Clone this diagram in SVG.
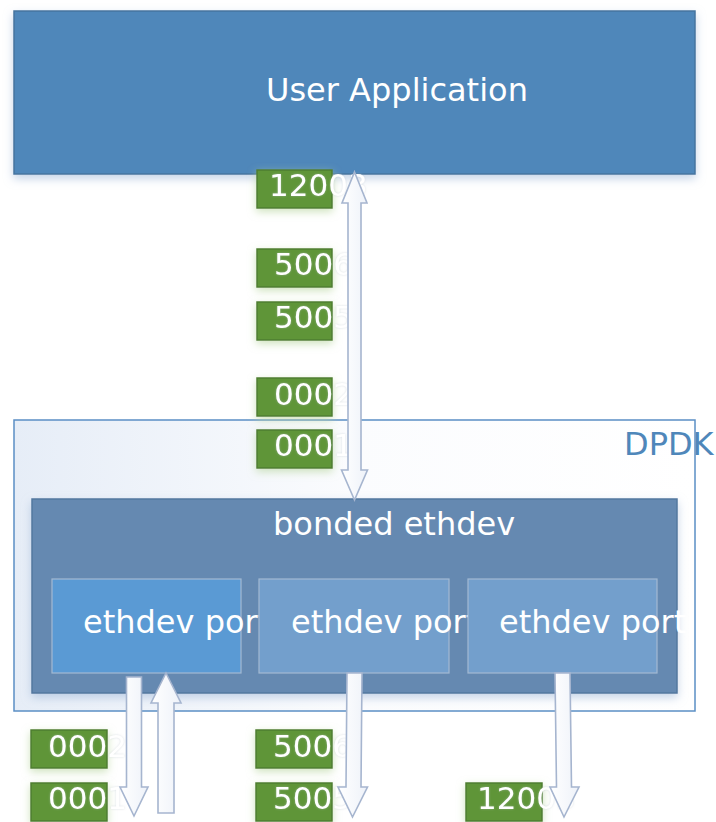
<svg xmlns="http://www.w3.org/2000/svg" width="716" height="822" viewBox="0 0 716 822">
<defs>
<style>
text{font-family:"DejaVu Sans","Liberation Sans",sans-serif;}
.big{font-size:32px;fill:#ffffff;}
.num{font-size:31px;fill:#ffffff;filter:url(#tglow);}
.lbl{fill:#5e9539;stroke:#4e7e2e;stroke-width:1.5;filter:url(#gglow);}
.port{stroke:#a3b9d2;stroke-width:1.2;}
.arr{fill:url(#arrFill);stroke:#a6b5cf;stroke-width:1.6;stroke-linejoin:miter;}
</style>
<linearGradient id="dpdkFill" x1="0" y1="0" x2="1" y2="0">
<stop offset="0" stop-color="#e6edf7"/>
<stop offset="0.5" stop-color="#fbfcfe"/>
<stop offset="1" stop-color="#ffffff"/>
</linearGradient>
<linearGradient id="arrFill" x1="0" y1="0" x2="1" y2="0">
<stop offset="0" stop-color="#ffffff"/>
<stop offset="1" stop-color="#eef2f9"/>
</linearGradient>
<filter id="bshadow" x="-10%" y="-20%" width="120%" height="150%">
<feDropShadow dx="0" dy="4" stdDeviation="5" flood-color="#9fb8d8" flood-opacity="0.6"/>
</filter>
<filter id="gglow" x="-30%" y="-40%" width="160%" height="190%">
<feDropShadow dx="0" dy="3" stdDeviation="4" flood-color="#b9d7a0" flood-opacity="0.7"/>
</filter>
<filter id="tglow" x="-10%" y="-30%" width="120%" height="160%">
<feDropShadow dx="0" dy="0" stdDeviation="0.8" flood-color="#b8c2cc" flood-opacity="0.5"/>
</filter>
</defs>

<g id="user-application">
<rect x="14" y="11" width="681" height="163" fill="#4f87ba" stroke="#44749f" stroke-width="1.5" filter="url(#bshadow)"/>
<text class="big" x="266" y="101">User Application</text>
</g>

<g id="dpdk">
<rect x="14" y="420" width="681" height="291" fill="url(#dpdkFill)" stroke="#5b8fc5" stroke-width="1.5"/>
<text x="624" y="455" style="font-size:32px;fill:#4f87ba">DPDK</text>
</g>

<g id="bonded-ethdev">
<rect x="32" y="499" width="645" height="194" fill="#6589b1" stroke="#52779f" stroke-width="1.5" filter="url(#bshadow)"/>
<text class="big" x="273" y="535">bonded ethdev</text>
</g>

<g id="port1">
<rect class="port" x="52" y="579" width="189" height="94" fill="#5a9ad4"/>
<text class="big" x="83" y="633">ethdev port</text>
</g>
<g id="port2">
<rect class="port" x="259" y="579" width="190" height="94" fill="#739fcc"/>
<text class="big" x="291" y="633">ethdev port</text>
</g>
<g id="port3">
<rect class="port" x="468" y="579" width="189" height="94" fill="#739fcc"/>
<text class="big" x="499" y="633">ethdev port</text>
</g>

<g id="top-labels">
<g id="lbl-t1"><rect class="lbl" x="257" y="170" width="75" height="38"/><text class="num" x="269" y="196">12003</text></g>
<g id="lbl-t2"><rect class="lbl" x="257" y="249" width="75" height="38"/><text class="num" x="274" y="275">5006</text></g>
<g id="lbl-t3"><rect class="lbl" x="257" y="302" width="75" height="38"/><text class="num" x="274" y="328">5005</text></g>
<g id="lbl-t4"><rect class="lbl" x="257" y="378" width="75" height="38"/><text class="num" x="274" y="405">0002</text></g>
<g id="lbl-t5"><rect class="lbl" x="257" y="430" width="75" height="38"/><text class="num" x="274" y="456">0001</text></g>
</g>

<g id="bottom-labels">
<g id="lbl-b1"><rect class="lbl" x="31" y="730" width="76" height="38"/><text class="num" x="48" y="757">0002</text></g>
<g id="lbl-b2"><rect class="lbl" x="31" y="783" width="76" height="38"/><text class="num" x="48" y="809">0001</text></g>
<g id="lbl-b3"><rect class="lbl" x="256" y="730" width="76" height="38"/><text class="num" x="273" y="757">5006</text></g>
<g id="lbl-b4"><rect class="lbl" x="256" y="783" width="76" height="38"/><text class="num" x="273" y="809">5005</text></g>
<g id="lbl-b5"><rect class="lbl" x="466" y="783" width="76" height="38"/><text class="num" x="477" y="809">12003</text></g>
</g>

<g id="connectors">
<polygon class="arr" points="354.5,172 367,203 361,203 361,470 367.5,470 354.5,500 341.5,470 348,470 348,203 342,203"/>
<polygon class="arr" points="126.5,677 141.5,677 141.5,787 148,787 134,816 120,787 126.5,787"/>
<polygon class="arr" points="166,673 181,703 174,703 174,813 158,813 158,703 151,703"/>
<polygon class="arr" points="347,673 362,673 361,787 367.5,787 352.5,817 338,787 346,787"/>
<polygon class="arr" points="555,673 570,673 571.5,787 579,787 564,817 550,787 556.5,787"/>
</g>
</svg>
